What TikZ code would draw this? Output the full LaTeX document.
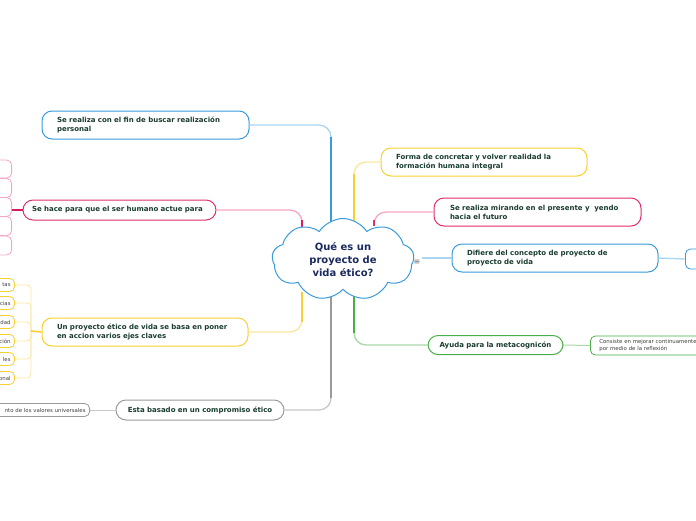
\documentclass[tikz,border=0pt]{standalone}
\usepackage{fontspec}
\setmainfont{DejaVu Sans}
\usetikzlibrary{shapes.symbols,calc}
\definecolor{tc}{HTML}{1A3D2E}
\definecolor{navy}{HTML}{1B2A5E}
\definecolor{blueC}{HTML}{3A9BDC}
\definecolor{blueL}{HTML}{A9D4F2}
\definecolor{pinkC}{HTML}{D81B60}
\definecolor{pinkB}{HTML}{E0306A}
\definecolor{pinkL}{HTML}{F4A6C4}
\definecolor{yelC}{HTML}{F8D030}
\definecolor{yelL}{HTML}{FBE6A0}
\definecolor{grayC}{HTML}{9A9A9A}
\definecolor{grayL}{HTML}{C8C8C8}
\definecolor{greenC}{HTML}{4AAE48}
\definecolor{greenL}{HTML}{A8D8A6}
\tikzset{
  mb/.style={rounded corners=10pt, line width=1pt, fill=white, text=tc,
    font=\bfseries\fontsize{7}{9}\selectfont, align=left, inner xsep=15pt, inner ysep=0pt},
  sb/.style={rounded corners=5pt, line width=.8pt, fill=white, text=black!75,
    font=\fontsize{5.4}{6.6}\selectfont, inner xsep=4pt, inner ysep=0pt},
  cl/.style={line width=1.3pt, rounded corners=12pt},
  cv/.style={line width=2.6pt},
  sc/.style={line width=.8pt, rounded corners=4pt}
}
\begin{document}
\begin{tikzpicture}[x=1pt,y=-1pt]
\useasboundingbox (0,0) rectangle (696,520);
% coordinates on the cloud
\coordinate (c1) at (331,228);
\coordinate (c2) at (302,238);
\coordinate (c3) at (302,292);
\coordinate (c4) at (331,292);
\coordinate (c5) at (354,226);
\coordinate (c6) at (374,226);
\coordinate (c7) at (422,258);
\coordinate (c8) at (354,292);
\coordinate (yb) at (31,331);

% main nodes
\node[mb, draw=blueC, minimum width=207pt, minimum height=28pt, text width=177pt] (n1) at (145.5,125) {Se realiza con el fin de buscar realización\\personal};
\node[mb, draw=pinkB, minimum width=193pt, minimum height=20pt, text width=175pt, inner xsep=9pt] (n2) at (119.5,210) {Se hace para que el ser humano actue para};
\node[mb, draw=yelC, minimum width=206pt, minimum height=28pt, text width=176pt] (n3) at (145,332) {Un proyecto ético de vida se basa en poner\\en accion varios ejes claves};
\node[mb, draw=grayC, minimum width=168pt, minimum height=20pt, text width=154pt, inner xsep=7pt, align=center] (n4) at (200,410) {Esta basado en un compromiso ético};
\node[mb, draw=yelC, minimum width=206pt, minimum height=28pt, text width=176pt] (n5) at (484,162) {Forma de concretar y volver realidad la\\formación humana integral};
\node[mb, draw=pinkB, minimum width=207pt, minimum height=28pt, text width=175pt, inner xsep=16pt] (n6) at (537.5,212) {Se realiza mirando en el presente y~ yendo\\hacia el futuro};
\node[mb, draw=blueC, minimum width=206pt, minimum height=28pt, text width=176pt] (n7) at (555,258) {Difiere del concepto de proyecto de\\proyecto de vida};
\node[mb, draw=greenC, minimum width=135pt, minimum height=19pt, text width=125pt, inner xsep=5pt, align=center] (n8) at (495.5,345) {Ayuda para la metacognicón};

% main connectors
\draw[cl, blueL] (n1.east) -| (c1);
\draw[cv, blueC] ($(c1 |- n1.east)+(0,12)$) -- (c1);
\draw[cl, pinkL] (n2.east) -| (c2);
\draw[cv, pinkC] ($(c2 |- n2.east)+(0,10)$) -- (c2);
\draw[cl, yelL] (n3.east) -| (c3);
\draw[cv, yelC] ($(c3 |- n3.east)+(0,-10)$) -- (c3);
\draw[cl, grayL] (n4.east) -| (c4);
\draw[cv, grayC] ($(c4 |- n4.east)+(0,-12)$) -- (c4);
\draw[cl, yelL] (n5.west) -| (c5);
\draw[cv, yelC] ($(c5 |- n5.west)+(0,12)$) -- (c5);
\draw[cl, pinkL] (n6.west) -| (c6);
\draw[cv, pinkB] ($(c6 |- n6.west)+(0,8)$) -- (c6);
\draw[line width=1.3pt, blueL] (n7.west) -- (c7);
\draw[cl, greenL] (n8.west) -| (c8);
\draw[cv, greenC] ($(c8 |- n8.west)+(0,-12)$) -- (c8);

% central cloud
\node[cloud, cloud puffs=9, cloud puff arc=115, aspect=1.7, draw=blueC, line width=1pt, fill=white,
  minimum width=142pt, minimum height=82pt, inner sep=0pt, text=navy, align=center,
  font=\bfseries\fontsize{10}{12.8}\selectfont] (ct) at (343,259.5) {Qué es un\\proyecto de\\vida ético?};
\node[text=black!60, font=\fontsize{8}{8}\selectfont, inner sep=0pt] (eq) at (417,262) {≡};

% pink children (left, cut off)
\node[sb, draw=pinkL, anchor=east, minimum width=50pt, minimum height=18pt] (p1) at (12,169) {};
\node[sb, draw=pinkL, anchor=east, minimum width=50pt, minimum height=19pt] (p2) at (12,188) {};
\node[sb, draw=pinkL, anchor=east, minimum width=50pt, minimum height=19pt] (p3) at (12,207) {};
\node[sb, draw=pinkL, anchor=east, minimum width=50pt, minimum height=19pt] (p4) at (12,226) {};
\node[sb, draw=pinkL, anchor=east, minimum width=50pt, minimum height=19pt] (p5) at (12,245.5) {};
\draw[line width=2pt, pinkC] (n2.west) -- (p3.east |- n2.west);

% yellow children (left, cut off)
\foreach \nm/\yy/\tx in {y1/285/tas, y2/303/cias, y3/322/dad, y4/341/ción, y5/359/les, y6/378/onal}{
  \draw[sc, yelL] (15,\yy) -| (yb);
  \node[sb, draw=yelC, anchor=east, text width=40pt, align=right, minimum height=13pt] (\nm) at (15,\yy) {\tx};
}
\draw[line width=1.6pt, yelC] (yb) -- (n3.west);

% gray child
\node[sb, draw=grayC, anchor=east, text width=122pt, align=right, minimum height=13pt] (g1) at (90,410) {nto de los valores universales};
\draw[line width=1pt, grayL] (g1.east) -- (n4.west);

% blue child (right, cut off)
\node[sb, draw=blueC, anchor=west, minimum width=80pt, minimum height=20pt] (b1) at (685,259) {};
\draw[line width=1.3pt, blueL] (n7.east) -- (b1.west);

% green child
\node[sb, draw=greenC, anchor=west, text width=130pt, align=left, inner xsep=9pt, minimum height=19pt] (gr1) at (590,345.5) {Consiste en mejorar continuamente\\por medio de la reflexión};
\draw[line width=1pt, greenL] (n8.east) -- (gr1.west);
\end{tikzpicture}
\end{document}
